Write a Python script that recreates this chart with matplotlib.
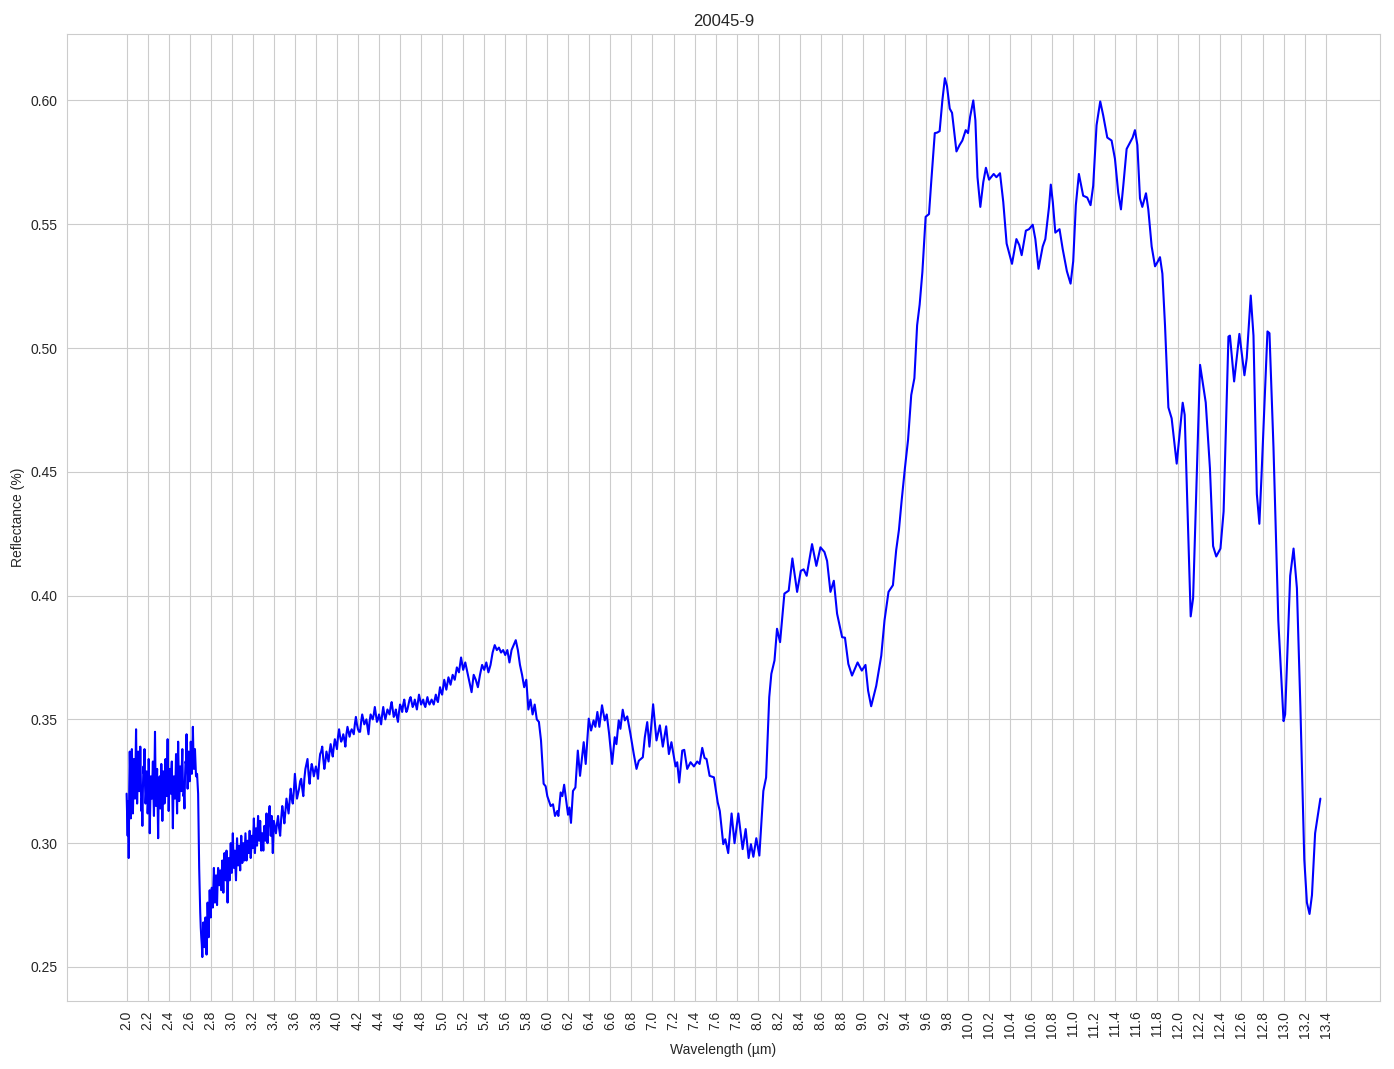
import numpy as np
import matplotlib
matplotlib.use("Agg")
import matplotlib.pyplot as plt
import seaborn as sns

sns.set_style("whitegrid")
plt.rcParams['font.family'] = ['Liberation Sans', 'DejaVu Sans']

title = "20045-9"

# noisy part 1: 2.00 - 2.68 um, step 0.01
seg1_start, seg1_step = 2.00, 0.01
seg1 = [0.320, 0.303, 0.294, 0.337, 0.310, 0.338, 0.312, 0.334, 0.318, 0.346,
        0.316, 0.337, 0.321, 0.339, 0.313, 0.307, 0.331, 0.338, 0.316, 0.329,
        0.312, 0.334, 0.304, 0.327, 0.318, 0.333, 0.311, 0.345, 0.315, 0.330,
        0.302, 0.326, 0.314, 0.332, 0.309, 0.329, 0.316, 0.334, 0.319, 0.342,
        0.313, 0.330, 0.320, 0.333, 0.306, 0.327, 0.318, 0.336, 0.312, 0.341,
        0.317, 0.331, 0.321, 0.338, 0.319, 0.314, 0.333, 0.344, 0.322, 0.337,
        0.325, 0.341, 0.328, 0.347, 0.330, 0.338, 0.327, 0.328, 0.320]
# in-between samples 2.005 - 2.675 um
seg1b_start = 2.005
seg1b = [0.312, 0.317, 0.322, 0.326, 0.319, 0.329, 0.323, 0.327, 0.331, 0.328,
         0.325, 0.330, 0.324, 0.327, 0.318, 0.322, 0.328, 0.324, 0.320, 0.326,
         0.317, 0.321, 0.315, 0.322, 0.326, 0.320, 0.329, 0.326, 0.322, 0.316,
         0.320, 0.327, 0.318, 0.324, 0.321, 0.325, 0.328, 0.324, 0.330, 0.325,
         0.322, 0.327, 0.329, 0.318, 0.321, 0.326, 0.325, 0.322, 0.328, 0.329,
         0.323, 0.328, 0.331, 0.324, 0.320, 0.326, 0.332, 0.331, 0.328, 0.332,
         0.334, 0.336, 0.335, 0.337, 0.332, 0.333, 0.327, 0.324]

# noisy part 2: 2.69 - 3.40 um, step 0.01
seg2_start, seg2_step = 2.69, 0.01
seg2 = [0.290, 0.272, 0.262, 0.254, 0.268, 0.258, 0.270, 0.255, 0.276, 0.262,
        0.281, 0.270, 0.282, 0.274, 0.290, 0.276, 0.287, 0.275, 0.290, 0.283,
        0.289, 0.281, 0.293, 0.280, 0.296, 0.285, 0.297, 0.276, 0.294, 0.285,
        0.300, 0.288, 0.304, 0.290, 0.297, 0.285, 0.302, 0.291, 0.299, 0.289,
        0.303, 0.292, 0.300, 0.293, 0.304, 0.293, 0.301, 0.296, 0.305, 0.294,
        0.303, 0.298, 0.310, 0.296, 0.306, 0.299, 0.311, 0.301, 0.309, 0.297,
        0.304, 0.297, 0.307, 0.301, 0.312, 0.300, 0.310, 0.315, 0.303, 0.311,
        0.296, 0.309]
# in-between samples 2.695 - 3.395 um
seg2b_start = 2.695
seg2b = [0.281, 0.266, 0.259, 0.262, 0.263, 0.265, 0.262, 0.267, 0.270, 0.273,
         0.276, 0.277, 0.278, 0.283, 0.282, 0.281, 0.280, 0.284, 0.287, 0.286,
         0.285, 0.288, 0.286, 0.289, 0.290, 0.291, 0.286, 0.286, 0.290, 0.293,
         0.294, 0.297, 0.296, 0.293, 0.290, 0.294, 0.297, 0.295, 0.294, 0.297,
         0.298, 0.296, 0.297, 0.299, 0.298, 0.297, 0.299, 0.301, 0.299, 0.298,
         0.301, 0.304, 0.303, 0.301, 0.303, 0.305, 0.306, 0.305, 0.303, 0.300,
         0.301, 0.304, 0.304, 0.307, 0.306, 0.305, 0.313, 0.309, 0.307, 0.303,
         0.303]

# noisy part 3: 3.42 - 5.90 um, step 0.02
seg3_start, seg3_step = 3.42, 0.02
seg3 = [0.304, 0.311, 0.303, 0.315, 0.308, 0.318, 0.312, 0.322, 0.316, 0.328,
        0.318, 0.322, 0.326, 0.319, 0.330, 0.334, 0.324, 0.332, 0.327, 0.331,
        0.326, 0.336, 0.339, 0.330, 0.337, 0.333, 0.340, 0.335, 0.342, 0.338,
        0.346, 0.341, 0.344, 0.339, 0.347, 0.343, 0.346, 0.344, 0.351, 0.346,
        0.345, 0.352, 0.348, 0.350, 0.344, 0.352, 0.350, 0.355, 0.349, 0.352,
        0.348, 0.355, 0.350, 0.354, 0.352, 0.357, 0.351, 0.354, 0.349, 0.356,
        0.353, 0.358, 0.353, 0.356, 0.359, 0.355, 0.358, 0.354, 0.360, 0.356,
        0.358, 0.355, 0.359, 0.356, 0.358, 0.356, 0.360, 0.357, 0.363, 0.360,
        0.366, 0.362, 0.367, 0.364, 0.368, 0.366, 0.371, 0.369, 0.375, 0.370,
        0.373, 0.369, 0.365, 0.361, 0.368, 0.366, 0.363, 0.368, 0.372, 0.370,
        0.373, 0.369, 0.372, 0.377, 0.380, 0.378, 0.379, 0.377, 0.378, 0.376,
        0.378, 0.373, 0.378, 0.380, 0.382, 0.378, 0.372, 0.368, 0.363, 0.366,
        0.354, 0.358, 0.352, 0.356, 0.350]
# in-between samples 3.43 - 4.99 um
seg3b_start = 3.43
seg3b = [0.308, 0.306, 0.310, 0.312, 0.313, 0.315, 0.317, 0.318, 0.321, 0.323,
         0.320, 0.325, 0.322, 0.326, 0.332, 0.328, 0.329, 0.330, 0.329, 0.329,
         0.332, 0.337, 0.334, 0.333, 0.335, 0.337, 0.337, 0.339, 0.340, 0.343,
         0.343, 0.342, 0.342, 0.344, 0.345, 0.345, 0.345, 0.348, 0.348, 0.345,
         0.349, 0.350, 0.349, 0.347, 0.349, 0.351, 0.352, 0.352, 0.350, 0.350,
         0.352, 0.352, 0.352, 0.353, 0.355, 0.354, 0.352, 0.351, 0.353, 0.355,
         0.356, 0.355, 0.354, 0.358, 0.357, 0.356, 0.356, 0.357, 0.358, 0.357,
         0.356, 0.357, 0.357, 0.357, 0.357, 0.358, 0.358, 0.360, 0.361]

# smooth part 5.92 - 13.35 um
wl_smooth = [5.92, 5.94, 5.965, 5.984, 6.00, 6.032, 6.054, 6.073, 6.095, 6.105,
             6.127, 6.143, 6.16, 6.197, 6.21, 6.225, 6.244, 6.267, 6.29, 6.311,
             6.346, 6.365, 6.394, 6.416, 6.44, 6.457, 6.476, 6.495, 6.52, 6.546,
             6.565, 6.587, 6.616, 6.641, 6.657, 6.679, 6.695, 6.717, 6.737, 6.76,
             6.79, 6.822, 6.848, 6.87, 6.908, 6.927, 6.95, 6.971, 7.006, 7.038,
             7.07, 7.098, 7.13, 7.156, 7.18, 7.219, 7.235, 7.254, 7.283, 7.302,
             7.33, 7.362, 7.394, 7.425, 7.448, 7.473, 7.495, 7.514, 7.543, 7.584,
             7.62, 7.64, 7.673, 7.692, 7.72, 7.752, 7.78, 7.816, 7.857, 7.886,
             7.914, 7.936, 7.959, 7.987, 8.016, 8.054, 8.08, 8.11, 8.13, 8.16,
             8.184, 8.213, 8.254, 8.295, 8.33, 8.375, 8.41, 8.437, 8.466, 8.517,
             8.558, 8.597, 8.635, 8.66, 8.692, 8.724, 8.755, 8.803, 8.83, 8.862,
             8.897, 8.95, 8.99, 9.025, 9.05, 9.079, 9.127, 9.175, 9.206, 9.244,
             9.286, 9.317, 9.343, 9.368, 9.40, 9.43, 9.46, 9.49, 9.516, 9.54,
             9.566, 9.597, 9.629, 9.65, 9.684, 9.706, 9.73, 9.756, 9.78, 9.80,
             9.826, 9.848, 9.89, 9.92, 9.946, 9.978, 10.0, 10.02, 10.05, 10.07,
             10.09, 10.117, 10.145, 10.17, 10.2, 10.244, 10.27, 10.304, 10.335, 10.367,
             10.418, 10.46, 10.487, 10.51, 10.55, 10.58, 10.615, 10.64, 10.67, 10.71,
             10.735, 10.77, 10.787, 10.806, 10.83, 10.87, 10.9, 10.94, 10.975, 11.0,
             11.025, 11.054, 11.095, 11.133, 11.165, 11.19, 11.222, 11.257, 11.285, 11.324,
             11.365, 11.397, 11.428, 11.454, 11.476, 11.508, 11.54, 11.565, 11.587, 11.61,
             11.635, 11.657, 11.692, 11.714, 11.746, 11.778, 11.80, 11.825, 11.848, 11.873,
             11.905, 11.936, 11.984, 12.041, 12.06, 12.117, 12.14, 12.206, 12.26, 12.30,
             12.33, 12.36, 12.40, 12.43, 12.476, 12.49, 12.53, 12.58, 12.628, 12.65,
             12.688, 12.714, 12.746, 12.77, 12.79, 12.847, 12.866, 12.904, 12.95, 13.0,
             13.015, 13.063, 13.095, 13.127, 13.16, 13.197, 13.222, 13.247, 13.27, 13.30,
             13.35]
refl_smooth = [0.349, 0.3415, 0.324, 0.323, 0.319, 0.315, 0.3157, 0.311, 0.313, 0.311,
               0.3205, 0.319, 0.3236, 0.3115, 0.3144, 0.3082, 0.3211, 0.3225, 0.3374, 0.3272,
               0.3408, 0.332, 0.3503, 0.3455, 0.3496, 0.347, 0.353, 0.347, 0.3557, 0.3496,
               0.352, 0.3444, 0.332, 0.3428, 0.340, 0.3496, 0.3462, 0.3539, 0.3496, 0.3512,
               0.3442, 0.336, 0.330, 0.3333, 0.3347, 0.3428, 0.3489, 0.339, 0.3561, 0.3415,
               0.3476, 0.339, 0.3472, 0.336, 0.3408, 0.331, 0.3327, 0.3245, 0.3374, 0.3377,
               0.330, 0.3327, 0.331, 0.333, 0.332, 0.3385, 0.3344, 0.334, 0.3272, 0.3266,
               0.3165, 0.313, 0.2996, 0.3016, 0.296, 0.312, 0.300, 0.312, 0.2976, 0.3057,
               0.294, 0.2996, 0.2945, 0.302, 0.295, 0.3211, 0.3265, 0.359, 0.3684, 0.3738,
               0.3866, 0.3812, 0.4008, 0.402, 0.415, 0.4015, 0.410, 0.4106, 0.408, 0.4208,
               0.412, 0.4195, 0.4176, 0.414, 0.4015, 0.406, 0.3927, 0.3832, 0.383, 0.3724,
               0.3677, 0.373, 0.3697, 0.372, 0.3616, 0.3553, 0.3635, 0.3757, 0.390, 0.4015,
               0.4042, 0.4184, 0.4265, 0.438, 0.4515, 0.463, 0.481, 0.4878, 0.5092, 0.5175,
               0.5307, 0.553, 0.5541, 0.567, 0.5868, 0.587, 0.5876, 0.600, 0.609, 0.6058,
               0.5967, 0.595, 0.5794, 0.582, 0.5838, 0.588, 0.5868, 0.5934, 0.600, 0.592,
               0.569, 0.557, 0.567, 0.5728, 0.568, 0.5703, 0.569, 0.5706, 0.559, 0.5422,
               0.534, 0.544, 0.5416, 0.5375, 0.5474, 0.548, 0.5498, 0.544, 0.532, 0.541,
               0.544, 0.557, 0.566, 0.559, 0.5466, 0.548, 0.540, 0.531, 0.526, 0.535,
               0.5577, 0.5703, 0.5615, 0.5608, 0.5577, 0.5655, 0.590, 0.5996, 0.594, 0.585,
               0.5838, 0.5764, 0.5628, 0.556, 0.5655, 0.5804, 0.583, 0.585, 0.588, 0.582,
               0.5604, 0.557, 0.5625, 0.556, 0.541, 0.533, 0.5346, 0.5367, 0.530, 0.509,
               0.476, 0.4716, 0.4533, 0.4779, 0.473, 0.3916, 0.399, 0.4932, 0.478, 0.4514,
               0.420, 0.4158, 0.419, 0.434, 0.5046, 0.505, 0.4865, 0.5057, 0.489, 0.496,
               0.5212, 0.505, 0.441, 0.429, 0.448, 0.5067, 0.506, 0.460, 0.390, 0.3493,
               0.352, 0.408, 0.419, 0.403, 0.355, 0.2935, 0.276, 0.2714, 0.279, 0.304,
               0.318]

xtick_vals = np.round(np.arange(2.0, 13.41, 0.2), 1)

wl = np.concatenate([
    seg1_start + seg1_step * np.arange(len(seg1)),
    seg1b_start + seg1_step * np.arange(len(seg1b)),
    seg2_start + seg2_step * np.arange(len(seg2)),
    seg2b_start + seg2_step * np.arange(len(seg2b)),
    seg3_start + seg3_step * np.arange(len(seg3)),
    seg3b_start + seg3_step * np.arange(len(seg3b)),
    np.array(wl_smooth),
])
refl = np.concatenate([seg1, seg1b, seg2, seg2b, seg3, seg3b, refl_smooth])
order = np.argsort(wl)
wl, refl = wl[order], refl[order]

fig, ax = plt.subplots(figsize=(13.94, 10.69), dpi=100)
ax.plot(wl, refl, color='blue', linewidth=1.5)

ax.set_title(title)
ax.set_xlabel("Wavelength (µm)")
ax.set_ylabel("Reflectance (%)")
ax.set_xticks(xtick_vals)
ax.set_xticklabels([f"{v:.1f}" for v in xtick_vals], rotation=90)

fig.subplots_adjust(left=0.048, right=0.990, bottom=0.0636, top=0.968)
fig.savefig("out.png", dpi=100)
